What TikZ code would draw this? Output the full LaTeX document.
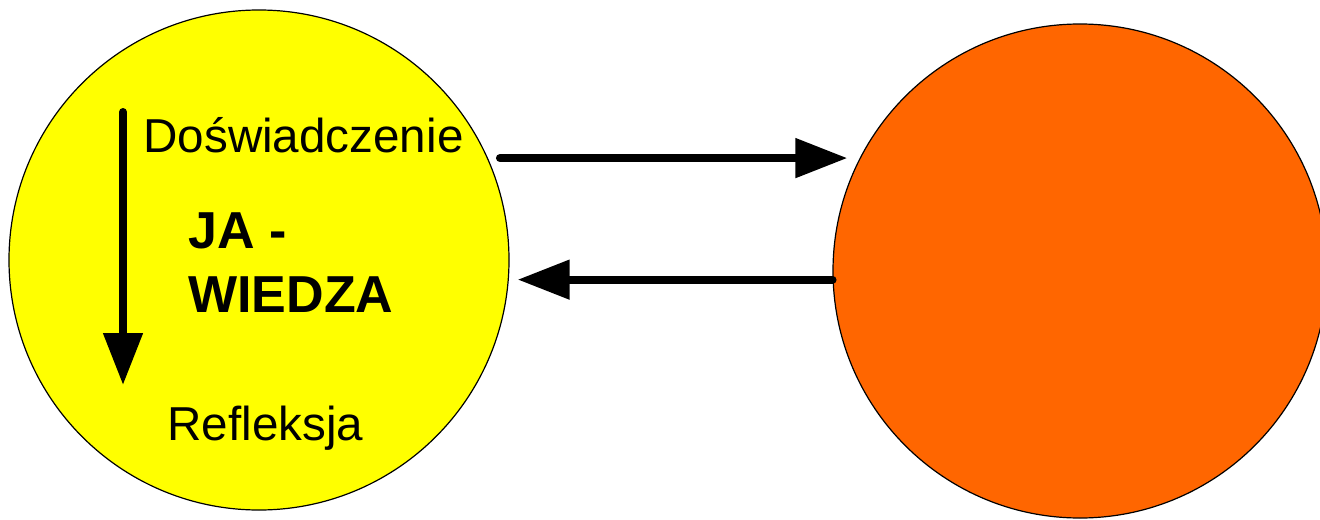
\documentclass[tikz,border=0pt]{standalone}
\usepackage{fontspec}
\setmainfont{Liberation Sans}
\usetikzlibrary{arrows.meta}
\definecolor{jayellow}{HTML}{FFFF00}
\definecolor{worange}{HTML}{FF6600}
\begin{document}
\begin{tikzpicture}[x=0.5pt,y=-0.5pt,
    ball/.style={circle,draw,line width=0.6pt,minimum size=#1,inner sep=0pt},
    arr/.style={line width=4pt,line cap=round,-{Triangle[length=26pt,width=19pt]}},
    lbl/.style={font=\fontsize{23.8}{28}\selectfont,inner sep=0pt,anchor=base west}]
  \clip (0,0) rectangle (1320,519);
  % the two circles
  \node[ball=250pt,fill=jayellow] (ja) at (259,260) {};
  \node[ball=247pt,fill=worange] (other) at (1080,271) {};
  % texts inside
  \node[lbl] (dosw) at (143,152) {Doświadczenie};
  \node[lbl] (refl) at (167,440) {Refleksja};
  \node[lbl,font=\bfseries\fontsize{26}{32}\selectfont,align=left] (wiedza) at (188,312) {JA -\\WIEDZA};
  \coordinate (dtop) at (123,112);
  \coordinate (dbot) at (123,385);
  \draw[arr] (dtop) -- (dbot);
  % arrows between the circles
  \draw[arr,shorten <=6pt,shorten >=6pt] (ja.24.3) -- (other.153 |- ja.24.3);
  \draw[arr,shorten >=4.5pt] (other.182.1) -- (ja.355.4 |- other.182.1);
\end{tikzpicture}
\end{document}
